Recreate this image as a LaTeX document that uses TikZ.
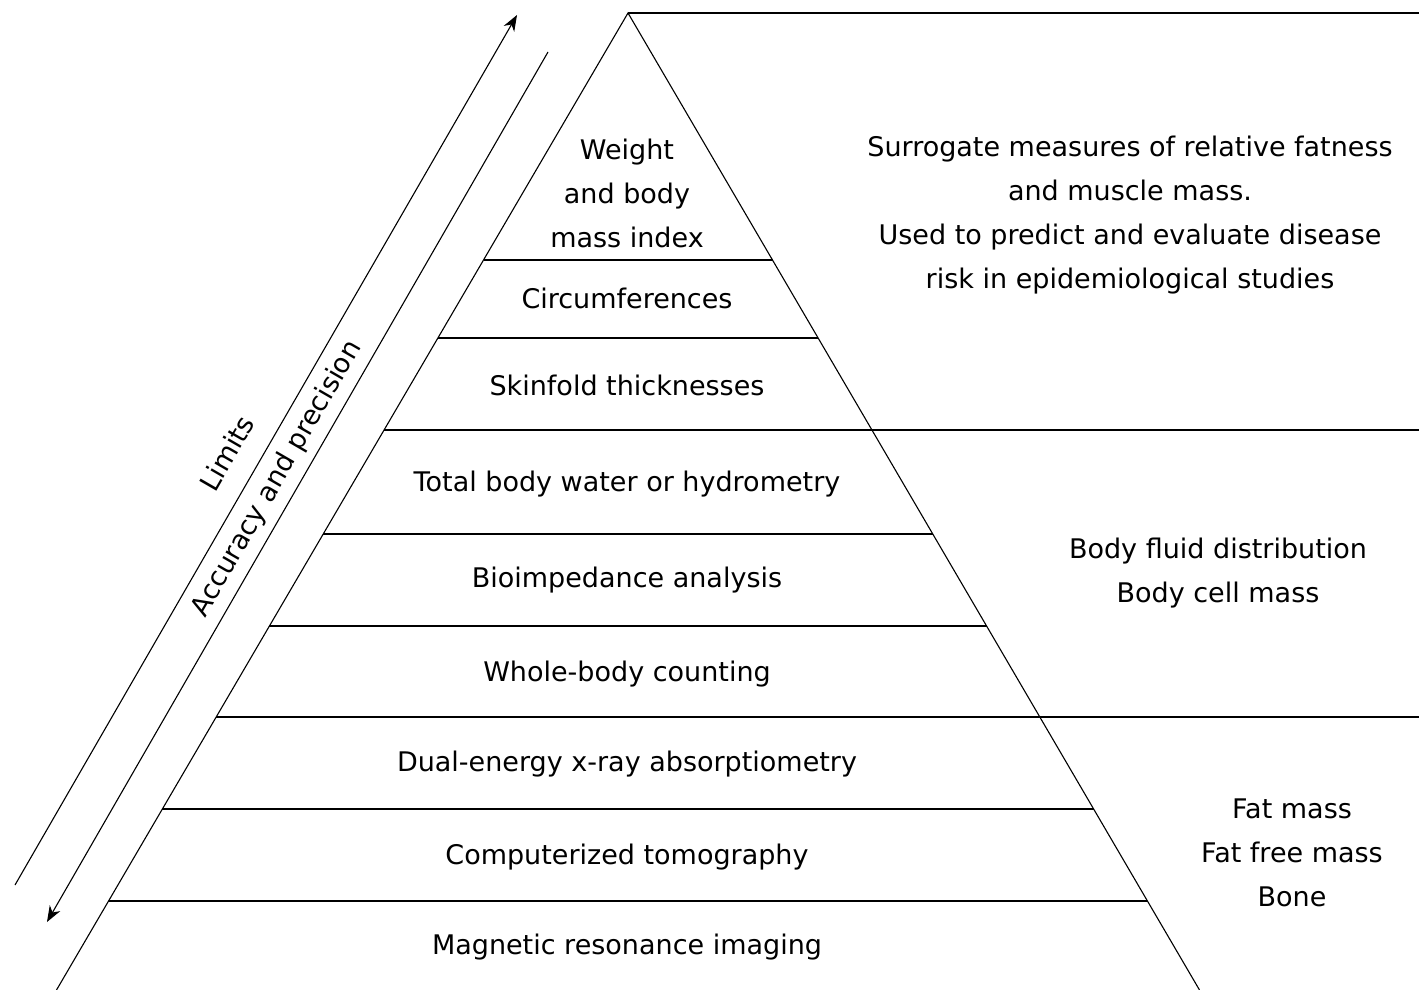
\documentclass[tikz,border=0pt]{standalone}
\usepackage{fontspec}
\setmainfont{DejaVu Sans}
\usepackage{tikz}
\usetikzlibrary{calc,arrows.meta}
\tikzset{
	level/.style={font=\fontsize{13.5}{22}\selectfont, align=center, inner sep=0pt},
	slanted/.style={font=\fontsize{13.5}{22}\selectfont, rotate=60, inner sep=0pt},
	edge/.style={line width=0.55pt},
	tip/.style={-{Stealth[length=8pt,width=6pt,inset=2.5pt]}}
}
\begin{document}
\begin{tikzpicture}[x=0.5pt,y=-0.5pt]
				\useasboundingbox (0,0) rectangle (1419,990);
				\coordinate (apex) at (628,13);
				\coordinate (baseL) at (56.5,990);
				\coordinate (baseR) at (1199.5,990);
				\draw[edge] (baseL) -- (apex) -- (baseR);
				\draw[edge] (apex) -- (1419,13);
				\foreach \yy in {260,338,534,626,809,901}{
					\pgfmathsetmacro{\dx}{0.585*(\yy-13)}
					\draw[edge] (628-\dx,\yy) -- (628+\dx,\yy);
				}
				\foreach \yy in {430,717}{
					\pgfmathsetmacro{\dx}{0.585*(\yy-13)}
					\draw[edge] (628-\dx,\yy) -- (1419,\yy);
				}
				\coordinate (upS) at (15,885);
				\coordinate (upE) at (517,15);
				\coordinate (dnS) at (548,52);
				\coordinate (dnE) at (47,922);
				\draw[edge,tip] (upS) -- (upE);
				\draw[edge,tip] (dnS) -- (dnE);
				\node[slanted] (limits) at (227,453) {Limits};
				\node[slanted] (accuracy) at (277,479) {Accuracy and precision};
				\node[level] (weight) at (627,193) {Weight\\and body\\mass index};
				\node[level] (circ) at (627,298) {Circumferences};
				\node[level] (skin) at (627,385) {Skinfold thicknesses};
				\node[level] (water) at (627,484) {Total body water or hydrometry};
				\node[level] (bia) at (627,580) {Bioimpedance analysis};
				\node[level] (count) at (627,674) {Whole-body counting};
				\node[level] (dxa) at (627,764) {Dual-energy x-ray absorptiometry};
				\node[level] (ct) at (627,857) {Computerized tomography};
				\node[level] (mri) at (627,947) {Magnetic resonance imaging};
				\node[level] (surrogate) at (1130,215.5) {Surrogate measures of relative fatness\\and muscle mass.\\Used to predict and evaluate disease\\risk in epidemiological studies};
				\node[level] (fluid) at (1218,573) {Body fluid distribution\\Body cell mass};
				\node[level] (fat) at (1292,853) {Fat mass\\Fat free mass\\Bone};
\end{tikzpicture}
\end{document}
